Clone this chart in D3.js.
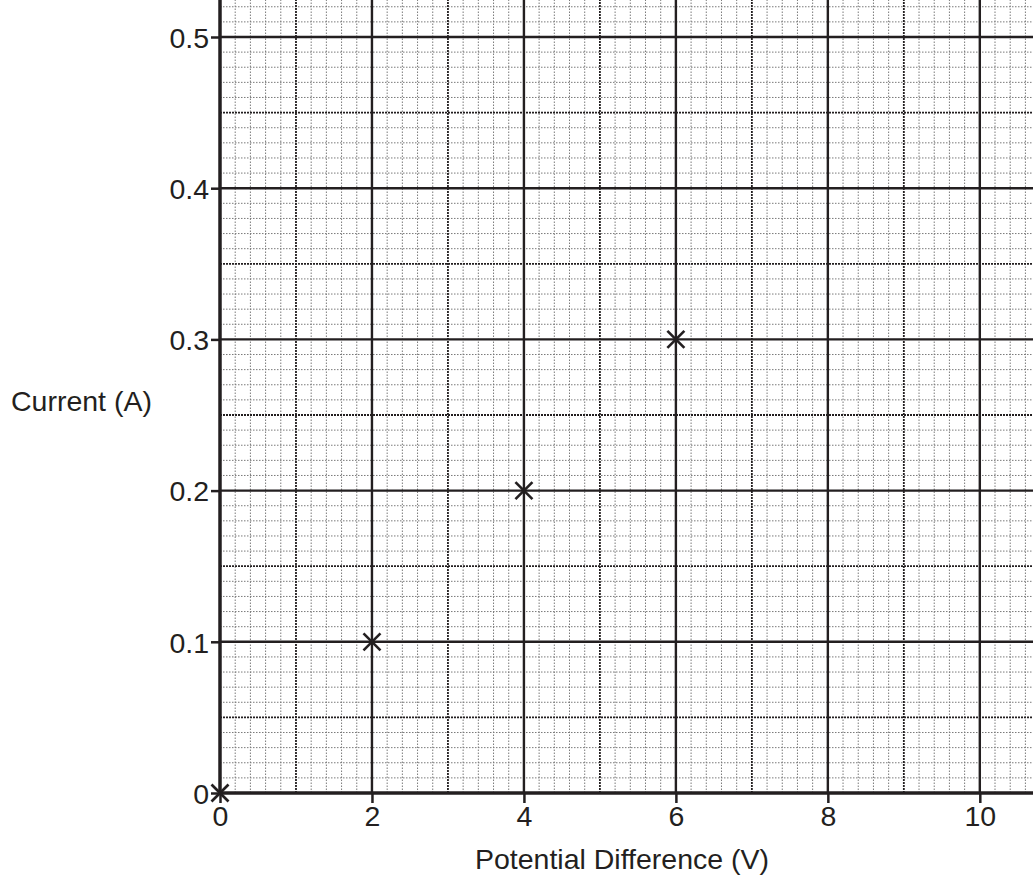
<!DOCTYPE html>
<html>
<head>
<meta charset="utf-8">
<title>Current vs Potential Difference</title>
<script src="https://d3js.org/d3.v7.min.js"></script>
<style>
  body { margin:0; background:#fff; }
  text { font-family: "Liberation Sans", Arial, sans-serif; fill:#231f20; }
  .tick text { font-size: 28.5px; }
  .axis-label { font-size: 28.5px; }
  .minor { stroke:#7a7a7a; stroke-width:1; stroke-dasharray:1.5,1.5; }
  .half { stroke:#231f20; stroke-width:1.8; stroke-dasharray:2,1; }
  .major { stroke:#231f20; stroke-width:2.4; }
  .axis-line { stroke:#231f20; stroke-width:3.5; }
  .mark { stroke:#231f20; stroke-width:2.6; }
</style>
</head>
<body>
<script>
// data
var voltage = [0, 2, 4, 6];
var current = [0, 0.1, 0.2, 0.3];
var xTicks = [0, 2, 4, 6, 8, 10];
var yTicks = [0, 0.1, 0.2, 0.3, 0.4, 0.5];
var xTitle = "Potential Difference (V)";
var yTitle = "Current (A)";

var W = 1033, H = 880;
var svg = d3.select("body").append("svg")
  .attr("width", W).attr("height", H);

var x = d3.scaleLinear().domain([0, 10.7]).range([220, 1033]);
var y = d3.scaleLinear().domain([0, 0.5]).range([793, 37]);
var xMax = 10.7, yMax = y.invert(0);

// grid
var g = svg.append("g");
var vLines = d3.range(1, Math.floor(xMax / 0.2) + 1).map(i => i * 0.2);
var hLines = d3.range(1, Math.floor(yMax / 0.01) + 1).map(i => i * 0.01);

function vClass(v) {
  var n = Math.round(v * 5);
  if (n % 10 == 0) return "major";
  if (n % 5 == 0) return "half";
  return "minor";
}
function hClass(v) {
  var n = Math.round(v * 100);
  if (n % 10 == 0) return "major";
  if (n % 5 == 0) return "half";
  return "minor";
}

["minor", "half", "major"].forEach(function(cls) {
  g.append("g").selectAll("line")
    .data(vLines.filter(d => vClass(d) == cls))
    .enter().append("line")
      .attr("class", cls)
      .attr("x1", d => x(d)).attr("x2", d => x(d))
      .attr("y1", y(0)).attr("y2", 0);
  g.append("g").selectAll("line")
    .data(hLines.filter(d => hClass(d) == cls))
    .enter().append("line")
      .attr("class", cls)
      .attr("y1", d => y(d)).attr("y2", d => y(d))
      .attr("x1", x(0)).attr("x2", W);
});

// axes
var xAxis = d3.axisBottom(x).tickValues(xTicks).tickFormat(d3.format("d"))
  .tickSize(10).tickSizeOuter(0);
var yAxis = d3.axisLeft(y).tickValues(yTicks).tickFormat(d => d == 0 ? "0" : d3.format(".1f")(d))
  .tickSize(9).tickSizeOuter(0);

var xa = svg.append("g").attr("transform", "translate(0," + y(0) + ")").call(xAxis);
var ya = svg.append("g").attr("transform", "translate(" + x(0) + ",0)").call(yAxis);
[xa, ya].forEach(function(a) {
  a.attr("font-family", null).attr("font-size", null);
  a.select(".domain").remove();
  a.selectAll(".tick line").attr("stroke", "#231f20").attr("stroke-width", 2.5);
  a.selectAll(".tick text").attr("fill", "#231f20");
});
xa.selectAll(".tick text").attr("dy", null).attr("y", 33);
ya.selectAll(".tick text").attr("x", -11).attr("dy", "0.36em");

svg.append("line").attr("class", "axis-line")
  .attr("x1", x(0)).attr("x2", W).attr("y1", y(0)).attr("y2", y(0));
svg.append("line").attr("class", "axis-line")
  .attr("x1", x(0)).attr("x2", x(0)).attr("y1", y(0) + 1.75).attr("y2", 0);

// titles
svg.append("text").attr("class", "axis-label")
  .attr("x", 622).attr("y", 869).attr("text-anchor", "middle").text(xTitle);
svg.append("text").attr("class", "axis-label")
  .attr("x", 11).attr("y", 411).text(yTitle);

// points
var pts = voltage.map((v, i) => ({v: v, c: current[i]}));
var s = 8.5;
var mk = svg.append("g").selectAll("g").data(pts).enter().append("g")
  .attr("transform", d => "translate(" + x(d.v) + "," + y(d.c) + ")");
mk.append("line").attr("class", "mark").attr("x1", -s).attr("y1", -s).attr("x2", s).attr("y2", s);
mk.append("line").attr("class", "mark").attr("x1", -s).attr("y1", s).attr("x2", s).attr("y2", -s);
</script>
</body>
</html>
